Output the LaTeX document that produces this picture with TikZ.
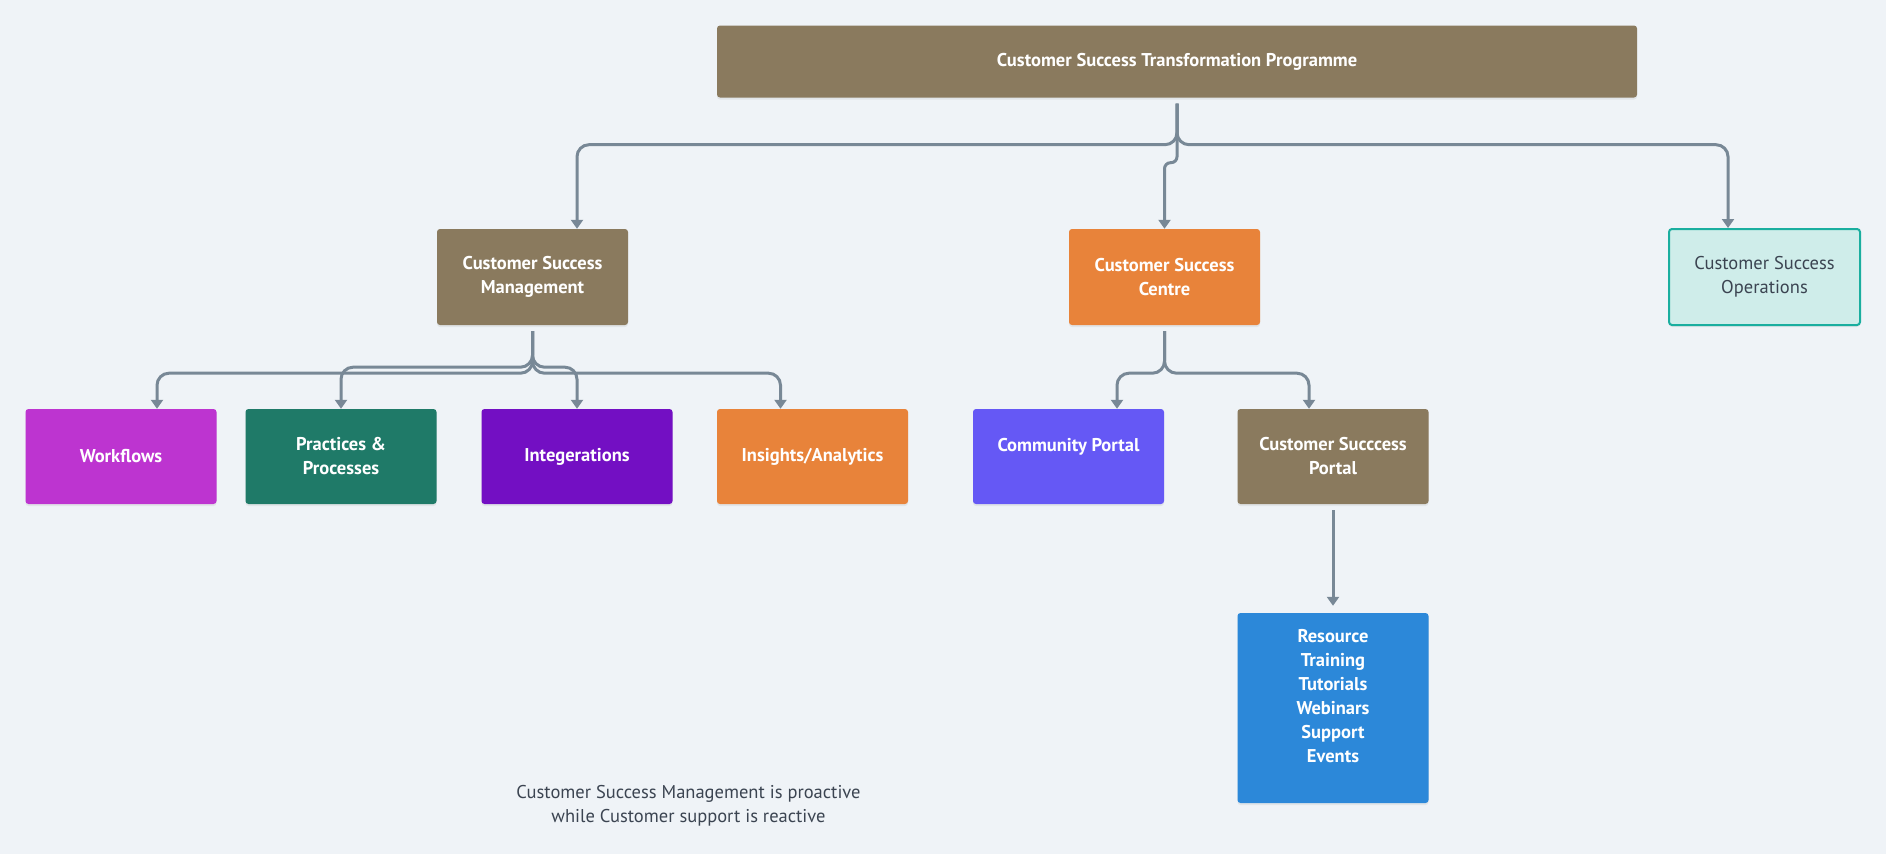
\documentclass[tikz,border=0pt]{standalone}
\usepackage{fontspec}
\setmainfont{PT Sans}
\usetikzlibrary{arrows.meta,shadows}
\definecolor{bgpale}{HTML}{EFF3F7}
\definecolor{brownbox}{HTML}{8A7A5E}
\definecolor{orangebox}{HTML}{E8833A}
\definecolor{tealpale}{HTML}{CFEDEA}
\definecolor{tealline}{HTML}{1AAE9F}
\definecolor{slate}{HTML}{3B4451}
\definecolor{wfpurple}{HTML}{BD34D0}
\definecolor{ppgreen}{HTML}{1F7A68}
\definecolor{intpurple}{HTML}{730FC3}
\definecolor{commblue}{HTML}{6558F5}
\definecolor{resblue}{HTML}{2C88D9}
\definecolor{linegray}{HTML}{788896}
\begin{document}
\begin{tikzpicture}[x=1pt,y=-1pt,
  box/.style={rounded corners=3pt, minimum width=191pt, minimum height=95pt, inner sep=0pt,
    align=center, text=white, font=\bfseries\fontsize{18.5}{24}\selectfont,
    drop shadow={opacity=0.12, shadow xshift=0pt, shadow yshift=-2pt}},
  conn/.style={line width=3pt, draw=linegray, rounded corners=12pt, shorten <=6pt,
    -{Triangle[width=12pt,length=9pt]}}]
  \fill[bgpale] (0,0) rectangle (1886,854);
  \node[box, fill=brownbox, minimum width=920pt, minimum height=72pt] (top) at (1177,61.5) {Customer Success Transformation Programme};
  \node[box, fill=brownbox, minimum height=96pt] (csm) at (532.5,277) {Customer Success\\Management};
  \node[box, fill=orangebox, minimum height=96pt] (csc) at (1164.5,277) {Customer Success\\Centre};
  \node[box, fill=tealpale, draw=tealline, line width=2pt, minimum height=96pt, text=slate, font=\fontsize{18.5}{24}\selectfont] (cso) at (1764.5,277) {Customer Success\\Operations};
  \node[box, fill=wfpurple] (wf) at (121,456.5) {Workflows};
  \node[box, fill=ppgreen] (pp) at (341,456.5) {Practices \&\\Processes};
  \node[box, fill=intpurple] (integ) at (577,456.5) {Integerations};
  \node[box, fill=orangebox] (ins) at (812.5,456.5) {Insights/Analytics};
  \node[box, fill=commblue] (comm) at (1068.5,456.5) {Community Portal\\~};
  \node[box, fill=brownbox] (csp) at (1333,456.5) {Customer Succcess\\Portal};
  \node[box, fill=resblue, minimum height=190pt] (res) at (1333,708) {Resource\\Training\\Tutorials\\Webinars\\Support\\Events\\~};
  \node[align=center, text=slate, font=\fontsize{18.5}{24}\selectfont] (note) at (688.5,806) {Customer Success Management is proactive\\while Customer support is reactive};
  \draw[conn] (top.south) -- ++(0,47) -| ([xshift=44.5pt]csm.north);
  \draw[conn, rounded corners=6pt] (top.south) -- ++(0,65) -| (csc.north);
  \draw[conn] (top.south) -- ++(0,47) -| ([xshift=-36.5pt]cso.north);
  \foreach \c/\d/\s in {wf/48/36, pp/42/0, integ/42/0, ins/48/-32}
    \draw[conn] (csm.south) -- ++(0,\d) -| ([xshift=\s pt]\c.north);
  \foreach \c/\s in {comm/48.5, csp/-24}
    \draw[conn] (csc.south) -- ++(0,48) -| ([xshift=\s pt]\c.north);
  \draw[conn, shorten >=7pt] (csp.south) -- (res.north);
\end{tikzpicture}
\end{document}
